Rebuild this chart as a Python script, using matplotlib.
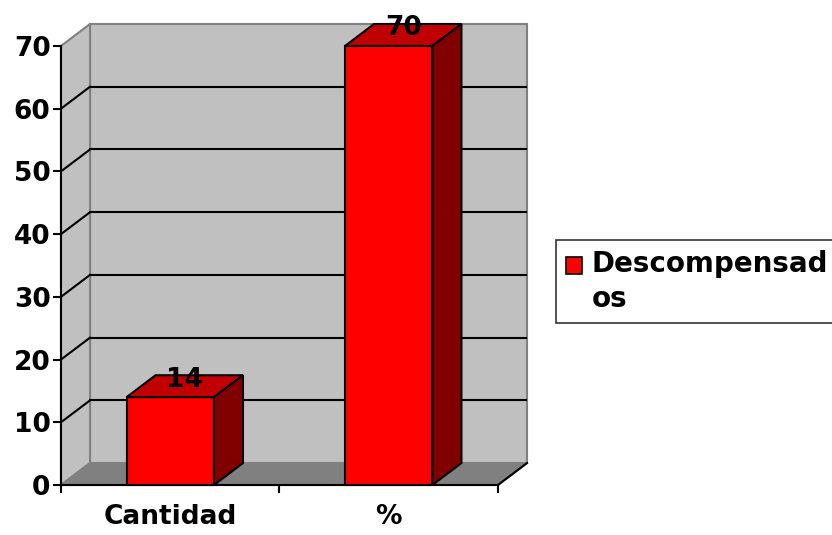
import matplotlib
matplotlib.use('Agg')
import matplotlib.pyplot as plt
from matplotlib.patches import Polygon, Patch, Rectangle
from matplotlib.legend_handler import HandlerPatch

categories = ['Cantidad', '%']
values = [14, 70]
series_label = 'Descompensad\nos'
yticks = [0, 10, 20, 30, 40, 50, 60, 70]

ymax = 70
dx = 0.133   # depth offset in category units
dy = 3.5     # depth offset in value units
bar_w = 0.4

plt.rcParams['font.family'] = ['DejaVu Sans']
plt.rcParams['font.weight'] = 'bold'
fs = 19


class FirstLineHandler(HandlerPatch):
    # square key aligned with the first line of a wrapped label
    def create_artists(self, legend, orig_handle, xdescent, ydescent,
                       width, height, fontsize, trans):
        p = Rectangle((-xdescent, -ydescent + 12.5), width, height,
                      facecolor=orig_handle.get_facecolor(),
                      edgecolor=orig_handle.get_edgecolor(), lw=1.2)
        p.set_transform(trans)
        return [p]


fig = plt.figure(figsize=(8.32, 5.35), dpi=100)
ax = fig.add_axes([61/832, 50/535, 466/832, 461/535])
n = len(categories)
ax.set_xlim(0, n + dx)
ax.set_ylim(0, ymax + dy)

wall = '#c0c0c0'
edge = '#808080'
# back wall
ax.add_patch(Polygon([(dx, dy), (n+dx, dy), (n+dx, ymax+dy), (dx, ymax+dy)],
                     closed=True, fc=wall, ec=edge, lw=1.5, zorder=1, clip_on=False))
# side wall
ax.add_patch(Polygon([(0, 0), (dx, dy), (dx, ymax+dy), (0, ymax)],
                     closed=True, fc=wall, ec=edge, lw=1.5, zorder=1, clip_on=False))
# floor
ax.add_patch(Polygon([(0, 0), (n, 0), (n+dx, dy), (dx, dy)],
                     closed=True, fc='#808080', ec=edge, lw=1.5, zorder=1, clip_on=False))
ax.plot([n, n+dx], [0, dy], color='black', lw=1.5, zorder=2, clip_on=False)

# gridlines
for v in yticks[1:-1]:
    ax.plot([dx, n+dx], [v+dy, v+dy], color='black', lw=1.5, zorder=2)
    ax.plot([0, dx], [v, v+dy], color='black', lw=1.5, zorder=2)

# bars
for i, v in enumerate(values):
    x0 = i + 0.5 - bar_w/2
    x1 = i + 0.5 + bar_w/2
    ax.add_patch(Polygon([(x0, 0), (x1, 0), (x1, v), (x0, v)],
                         closed=True, fc='#ff0000', ec='black', lw=1.5, zorder=4, clip_on=False))
    ax.add_patch(Polygon([(x0, v), (x1, v), (x1+dx, v+dy), (x0+dx, v+dy)],
                         closed=True, fc='#c00000', ec='black', lw=1.5, zorder=4, clip_on=False))
    ax.add_patch(Polygon([(x1, 0), (x1+dx, dy), (x1+dx, v+dy), (x1, v)],
                         closed=True, fc='#800000', ec='black', lw=1.5, zorder=4, clip_on=False))
    ax.text(i + 0.5 + dx/2, v + dy - 0.7, str(v), ha='center', va='center',
            fontsize=fs, fontweight='bold', zorder=5, clip_on=False)

# axes
for s in ['top', 'right']:
    ax.spines[s].set_visible(False)
ax.spines['left'].set_bounds(0, ymax)
ax.spines['bottom'].set_bounds(0, n)
ax.spines['left'].set_linewidth(1.5)
ax.spines['bottom'].set_linewidth(1.5)
ax.spines['left'].set_zorder(6)
ax.spines['bottom'].set_zorder(6)

ax.set_yticks(yticks)
ax.set_yticklabels([str(t) for t in yticks], fontsize=fs, fontweight='bold')
ax.tick_params(axis='y', length=6, width=1.5, pad=1.5)

ax.set_xticks(range(n + 1))
ax.set_xticklabels([])
ax.set_xticks([i + 0.5 for i in range(n)], minor=True)
ax.set_xticklabels(categories, minor=True, fontsize=fs, fontweight='bold')
ax.tick_params(axis='x', which='major', length=6, width=1.5)
ax.tick_params(axis='x', which='minor', length=0, pad=14)

handle = Patch(facecolor='#ff0000', edgecolor='black', lw=1.2)
leg = fig.legend([handle], [series_label], loc='upper left',
                 bbox_to_anchor=(556/832, 1 - 240/535), fontsize=20,
                 frameon=True, fancybox=False, shadow=False,
                 handlelength=0.58, handleheight=0.58, handletextpad=0.35,
                 borderaxespad=0, borderpad=0.35,
                 handler_map={Patch: FirstLineHandler()})
leg.get_frame().set_edgecolor('black')
leg.get_frame().set_linewidth(1.2)
for t in leg.get_texts():
    t.set_fontweight('bold')
    t.set_linespacing(1.35)

fig.savefig('out.png', dpi=100)
